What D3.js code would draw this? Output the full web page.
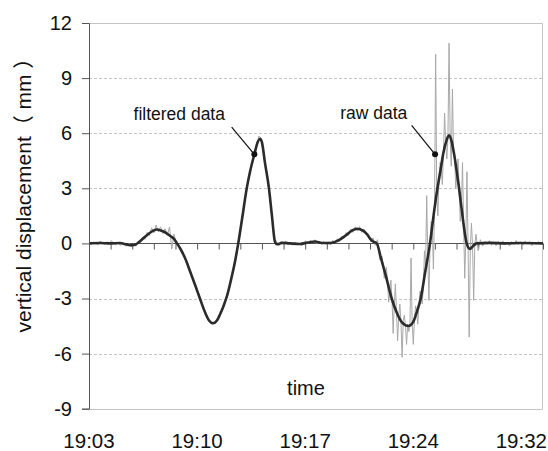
<!DOCTYPE html>
<html>
<head>
<meta charset="utf-8">
<script src="https://cdn.jsdelivr.net/npm/d3@7"></script>
<style>
	html, body { margin: 0; padding: 0; background: #fff; }
	text { font-family: "Liberation Sans", Arial, "Noto Sans CJK SC", sans-serif; fill: #111; }
	.grid line { stroke: #c4c4c4; stroke-dasharray: 3,2; }
	.frame { stroke: #c4c4c4; fill: none; }
</style>
</head>
<body>
<svg id="myGraph" width="548" height="451"></svg>
<script>
// x axis labels (one label every 5 minor ticks)
var xTickLabels = ["19:03", "19:10", "19:17", "19:24", "19:32"];
var labelStep = 7.25;	// minutes between labels
var minorStep = 1.45;	// minutes between small ticks on the zero line
var timeMax = 30.45;	// minutes after 19:03 at right edge
var yTicks = [-9, -6, -3, 0, 3, 6, 9, 12];

// raw data, sampled in three pieces (start minute, step in minutes, values)
var rawStartA = 0, rawStepA = 0.15;
var rawA = [
	0.02, -0.06, 0.08, 0.01, -0.09, 0.12, 0.03, -0.05, 0.10, -0.02,
	0.15, 0.00, -0.08, 0.07, -0.12, 0.05, -0.10, -0.15, 0.00, -0.20,
	-0.02, -0.16, 0.12, 0.05, 0.35, 0.22, 0.60, 0.42, 0.85, 0.58,
	1.00, 0.62, 0.90, 0.55, 0.80, 0.42, 0.90, -0.30, 0.50, 0.00,
	-0.05, -0.40, -0.50, -0.88, -1.08, -1.52, -1.74, -2.18, -2.40, -2.85,
	-3.08, -3.52, -3.72, -4.10, -4.18, -4.40, -4.25, -4.30, -3.90, -3.80,
	-3.40, -3.15, -2.68, -2.28, -1.65, -1.20, -0.45, 0.25, 0.95, 1.85,
	2.50, 3.35, 3.85, 4.45, 4.80, 5.38, 5.85, 5.70, 5.00, 4.10,
	3.40, 2.35, 1.35, 0.20, 0.10, -0.12, 0.10, -0.05, 0.12, -0.08,
	0.06, -0.10, 0.08, -0.06, 0.02, -0.12, 0.04, 0.14, -0.03, 0.18,
	0.04, 0.20, -0.02, 0.12, -0.06, 0.10, -0.05, 0.09, -0.08, 0.16,
	0.02, 0.25, 0.10, 0.38, 0.28, 0.58, 0.42, 0.78, 0.60, 0.90,
	0.68, 0.92, 0.60, 0.78, 0.45, 0.50, 0.10, 0.30
];
var rawStartB = 19.20, rawStepB = 0.075;	// second event, denser
var rawB = [
	-0.10, 0.05, 0.20, -0.30, -0.90, -0.85, -0.70, -1.20, -1.90, -1.60,
	-1.30, -2.20, -3.20, -2.50, -2.00, -3.10, -4.90, -3.30, -2.20, -3.80,
	-5.30, -3.90, -3.30, -4.30, -6.20, -4.20, -3.90, -4.50, -5.50, -4.40,
	-4.80, -4.50, -0.80, -4.30, -5.50, -4.20, -3.40, -3.70, -4.40, -3.40,
	-2.60, -2.80, -3.30, -2.30, -0.40, -1.30, 2.60, -0.80, -3.10, 0.10,
	1.20, 0.90, -1.40, 1.90, 10.30, 2.60, 1.50, 3.60, 4.40, 4.10,
	3.20, 5.00, 7.10, 5.40, 4.60, 5.80, 10.90, 5.70, 4.20, 8.40,
	5.00, 4.60, 3.00, 3.90, 4.60, 3.00, 1.20, 1.90, 4.40, 1.10,
	-1.90, 0.20, 3.90, -0.20, -5.10, -0.30, 1.10, -0.10, -3.10, -0.10,
	0.50, 0.05, -0.40
];
var rawStartC = 26.25, rawStepC = 0.15;
var rawC = [
	0.20, -0.15, 0.12, -0.05, 0.15, -0.10, 0.08, -0.12, 0.10, 0.00,
	0.14, -0.08, 0.06, -0.14, 0.10, -0.04, 0.16, -0.06, 0.08, -0.10,
	0.12, -0.02, 0.10, -0.12, 0.06, -0.06, 0.10, -0.04, 0.05
];

// filtered data (minutes after 19:03, mm)
var filteredTime = [
	0, 0.74, 1.41, 2.08, 2.41, 2.75, 3.09, 3.42, 3.96, 4.29,
	4.56, 4.96, 5.30, 5.50, 5.70, 5.90, 6.10, 6.44, 6.77, 7.11,
	7.44, 7.78, 8.05, 8.32, 8.58, 8.85, 9.05, 9.26, 9.52, 9.79,
	10.01, 10.26, 10.58, 10.80, 11.09, 11.33, 11.47, 11.60, 11.80, 12.07,
	12.27, 12.47, 12.61, 12.94, 13.48, 14.15, 14.69, 15.16, 15.63, 16.16,
	16.70, 17.17, 17.64, 17.97, 18.38, 18.65, 18.85, 19.05, 19.30, 19.58,
	19.92, 20.30, 20.66, 20.99, 21.42, 21.73, 22.00, 22.25, 22.54, 22.87,
	23.14, 23.37, 23.58, 23.76, 23.94, 24.14, 24.31, 24.48, 24.65, 24.82,
	25.02, 25.18, 25.33, 25.55, 25.75, 26.00, 26.89, 27.90, 28.91, 30.45
];
var filteredValue = [
	0, 0.02, 0, 0.02, -0.03, -0.1, -0.07, 0.12, 0.5, 0.68,
	0.76, 0.66, 0.5, 0.38, 0.25, 0, -0.25, -0.8, -1.5, -2.25,
	-3.0, -3.75, -4.2, -4.35, -4.2, -3.75, -3.35, -2.85, -2.0, -1.0,
	0, 1.3, 3.0, 3.9, 4.85, 5.55, 5.7, 5.5, 4.4, 3.0,
	1.5, 0.1, -0.05, 0.03, 0, -0.03, 0.05, 0.1, 0.02, 0.02,
	0.15, 0.4, 0.7, 0.8, 0.7, 0.5, 0.26, 0.1, 0, -0.8,
	-1.8, -3.0, -3.8, -4.3, -4.5, -4.3, -3.7, -3.0, -1.6, 0,
	1.7, 3.0, 4.0, 4.9, 5.5, 5.88, 5.6, 4.9, 4.0, 3.0,
	1.7, 0.7, 0, -0.3, -0.15, 0, 0.03, 0, 0.02, 0
];

// annotations: label, point on the curve, start of pointer, label anchor (data units)
var annotations = [
	{ label: "filtered data", point: [11.09, 4.85], from: [9.57, 6.33], text: [9.12, 6.73] },
	{ label: "raw data", point: [23.21, 4.85], from: [21.64, 6.42], text: [21.35, 6.75] }
];

window.addEventListener("load", function(){

	var svg = d3.select("#myGraph");
	var margin = { left: 89, top: 23, right: 5, bottom: 42.3 };
	var width = 548 - margin.left - margin.right;	// 454
	var height = 451 - margin.top - margin.bottom;	// ~385.7

	var x = d3.scaleLinear().domain([0, timeMax]).range([0, width]);
	var y = d3.scaleLinear().domain([-9, 12]).range([height, 0]);

	var g = svg.append("g")
		.attr("transform", "translate(" + margin.left + "," + margin.top + ")");

	// dashed grid lines
	g.append("g").attr("class", "grid")
		.selectAll("line")
		.data(yTicks.filter(function(d){ return d != 0 && d != 12 && d != -9; }))
		.enter().append("line")
		.attr("x1", 0).attr("x2", width)
		.attr("y1", function(d){ return Math.round(y(d)) + 0.5; })
		.attr("y2", function(d){ return Math.round(y(d)) + 0.5; });

	// frame (top, right, bottom)
	g.append("path").attr("class", "frame")
		.attr("d", "M0," + (Math.round(y(12)) + 0.5) + "H" + (width - 0.5) + "V" + (Math.round(y(-9)) + 0.5) + "H0");

	// zero line with small ticks hanging below
	var minorTicks = d3.range(0, timeMax + 0.001, minorStep);
	var zeroAxis = d3.axisBottom(x)
		.tickValues(minorTicks)
		.tickSize(6)
		.tickFormat("");
	var za = g.append("g")
		.attr("transform", "translate(0," + (Math.round(y(0)) + 0.5) + ")")
		.call(zeroAxis);
	za.select(".domain").attr("stroke", "#555").attr("d", "M0,0H" + width);
	za.selectAll(".tick line").attr("stroke", "#555");

	// raw data: join the three sampled pieces
	function samples(start, step, values){
		return values.map(function(v, i){ return [start + i * step, v]; });
	}
	var rawData = samples(rawStartA, rawStepA, rawA)
		.concat(samples(rawStartB, rawStepB, rawB))
		.concat(samples(rawStartC, rawStepC, rawC));

	var line = d3.line()
		.x(function(d){ return x(d[0]); })
		.y(function(d){ return y(d[1]); });

	g.append("path")
		.datum(rawData)
		.attr("fill", "none")
		.attr("stroke", "#a8a8a8")
		.attr("stroke-width", 1)
		.attr("d", line);

	// filtered data
	var filteredData = filteredTime.map(function(t, i){ return [t, filteredValue[i]]; });
	g.append("path")
		.datum(filteredData)
		.attr("fill", "none")
		.attr("stroke", "#2b2b2b")
		.attr("stroke-width", 2.6)
		.attr("stroke-linejoin", "round")
		.attr("d", line.curve(d3.curveMonotoneX));

	// left axis
	var yAxis = d3.axisLeft(y)
		.tickValues(yTicks)
		.tickSize(7)
		.tickPadding(10)
		.tickFormat(function(d){ return String(d); });	// plain hyphen minus
	var ya = g.append("g").call(yAxis);
	ya.select(".domain").attr("stroke", "#555");
	ya.selectAll(".tick line").attr("stroke", "#555");
	ya.selectAll(".tick text")
		.style("font-size", "20px")
		.attr("fill", "#111");

	// x labels under the chart
	g.append("g").selectAll("text")
		.data(xTickLabels)
		.enter().append("text")
		.attr("x", function(d, i){ return x(i * labelStep); })
		.attr("y", 447.7 - margin.top)
		.attr("text-anchor", "middle")
		.style("font-size", "20.5px")
		.text(function(d){ return d; });

	// axis titles
	g.append("text")
		.attr("x", x(timeMax / 2) - 10)
		.attr("y", 395 - margin.top)
		.attr("text-anchor", "middle")
		.style("font-size", "20px")
		.text("time");

	svg.append("text")
		.attr("transform", "translate(31,190) rotate(-90)")
		.attr("text-anchor", "middle")
		.style("font-size", "21px")
		.text("vertical displacement（ mm ）");

	// annotations
	var ann = g.selectAll(".ann").data(annotations).enter().append("g").attr("class", "ann");
	ann.append("line")
		.attr("x1", function(d){ return x(d.from[0]); })
		.attr("y1", function(d){ return y(d.from[1]); })
		.attr("x2", function(d){ return x(d.point[0]); })
		.attr("y2", function(d){ return y(d.point[1]); })
		.attr("stroke", "#111")
		.attr("stroke-width", 1.2);
	ann.append("circle")
		.attr("cx", function(d){ return x(d.point[0]); })
		.attr("cy", function(d){ return y(d.point[1]); })
		.attr("r", 3)
		.attr("fill", "#111");
	ann.append("text")
		.attr("x", function(d){ return x(d.text[0]); })
		.attr("y", function(d){ return y(d.text[1]); })
		.attr("text-anchor", "end")
		.style("font-size", "17.5px")
		.text(function(d){ return d.label; });

});
</script>
</body>
</html>
